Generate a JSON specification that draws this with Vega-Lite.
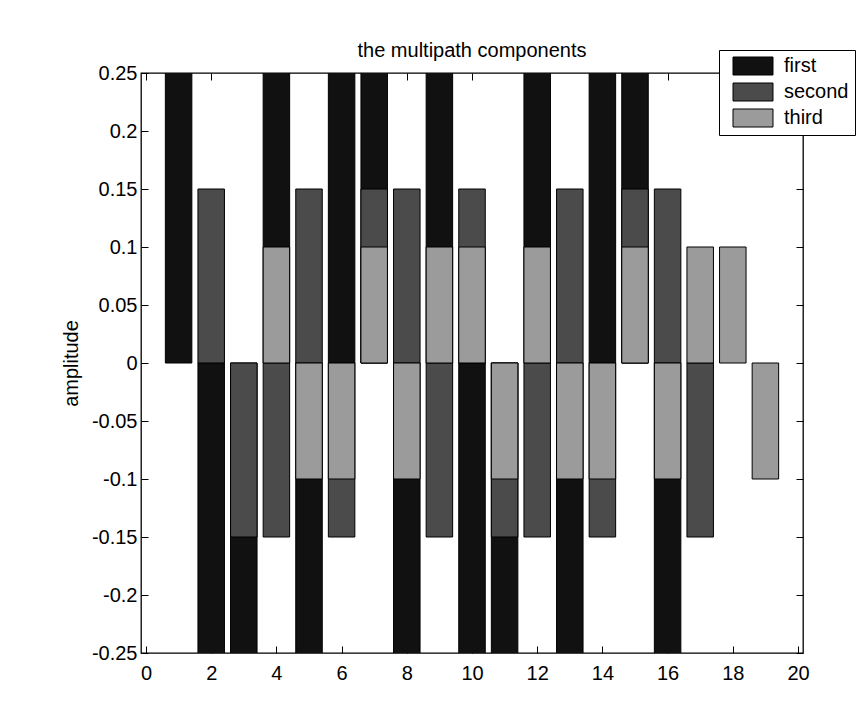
{
  "$schema": "https://vega.github.io/schema/vega-lite/v6.json",
  "width": 662,
  "height": 580,
  "autosize": {"type": "none"},
  "padding": {"left": 141, "top": 73, "right": 60, "bottom": 60},
  "background": "white",
  "title": {"text": "the multipath components", "fontSize": 20, "font": "Liberation Sans", "fontWeight": "normal", "color": "black", "offset": 16, "dy": 43, "anchor": "middle", "frame": "group", "baseline": "alphabetic"},
  "config": {
    "view": {"stroke": "black", "strokeWidth": 1.3},
    "font": "Liberation Sans",
    "axis": {"grid": false, "domain": false, "tickColor": "black", "tickWidth": 1, "tickSize": -7, "labelFont": "Liberation Sans", "labelFontSize": 20, "labelColor": "black", "titleFont": "Liberation Sans", "titleFontSize": 20, "titleFontWeight": "normal", "titleColor": "black"}
  },
  "data": {"values": [
    {"n": 1, "series": "first", "amp": 1},
    {"n": 2, "series": "first", "amp": -1},
    {"n": 3, "series": "first", "amp": -1},
    {"n": 4, "series": "first", "amp": 1},
    {"n": 5, "series": "first", "amp": -1},
    {"n": 6, "series": "first", "amp": 1},
    {"n": 7, "series": "first", "amp": 1},
    {"n": 8, "series": "first", "amp": -1},
    {"n": 9, "series": "first", "amp": 1},
    {"n": 10, "series": "first", "amp": -1},
    {"n": 11, "series": "first", "amp": -1},
    {"n": 12, "series": "first", "amp": 1},
    {"n": 13, "series": "first", "amp": -1},
    {"n": 14, "series": "first", "amp": 1},
    {"n": 15, "series": "first", "amp": 1},
    {"n": 16, "series": "first", "amp": -1},
    {"n": 2, "series": "second", "amp": 0.15},
    {"n": 3, "series": "second", "amp": -0.15},
    {"n": 4, "series": "second", "amp": -0.15},
    {"n": 5, "series": "second", "amp": 0.15},
    {"n": 6, "series": "second", "amp": -0.15},
    {"n": 7, "series": "second", "amp": 0.15},
    {"n": 8, "series": "second", "amp": 0.15},
    {"n": 9, "series": "second", "amp": -0.15},
    {"n": 10, "series": "second", "amp": 0.15},
    {"n": 11, "series": "second", "amp": -0.15},
    {"n": 12, "series": "second", "amp": -0.15},
    {"n": 13, "series": "second", "amp": 0.15},
    {"n": 14, "series": "second", "amp": -0.15},
    {"n": 15, "series": "second", "amp": 0.15},
    {"n": 16, "series": "second", "amp": 0.15},
    {"n": 17, "series": "second", "amp": -0.15},
    {"n": 4, "series": "third", "amp": 0.1},
    {"n": 5, "series": "third", "amp": -0.1},
    {"n": 6, "series": "third", "amp": -0.1},
    {"n": 7, "series": "third", "amp": 0.1},
    {"n": 8, "series": "third", "amp": -0.1},
    {"n": 9, "series": "third", "amp": 0.1},
    {"n": 10, "series": "third", "amp": 0.1},
    {"n": 11, "series": "third", "amp": -0.1},
    {"n": 12, "series": "third", "amp": 0.1},
    {"n": 13, "series": "third", "amp": -0.1},
    {"n": 14, "series": "third", "amp": -0.1},
    {"n": 15, "series": "third", "amp": 0.1},
    {"n": 16, "series": "third", "amp": -0.1},
    {"n": 17, "series": "third", "amp": 0.1},
    {"n": 18, "series": "third", "amp": 0.1},
    {"n": 19, "series": "third", "amp": -0.1}
  ]},
  "layer": [
    {
      "mark": {"type": "bar", "width": 26.5, "stroke": "black", "strokeWidth": 1, "clip": true},
      "encoding": {
        "x": {"field": "n", "type": "quantitative", "scale": {"domain": [0, 20], "nice": false, "zero": false},
          "axis": {"orient": "bottom", "values": [0, 2, 4, 6, 8, 10, 12, 14, 16, 18, 20], "title": null, "labelPadding": 17}},
        "y": {"field": "amp", "type": "quantitative", "stack": null, "scale": {"domain": [-0.25, 0.25], "nice": false},
          "axis": {"orient": "left", "values": [-0.25, -0.2, -0.15, -0.1, -0.05, 0, 0.05, 0.1, 0.15, 0.2, 0.25], "labelExpr": "'' + datum.value", "title": "amplitude", "labelPadding": 11, "titlePadding": 10}},
        "color": {"field": "series", "type": "nominal",
          "scale": {"domain": ["first", "second", "third"], "range": ["#111111", "#4b4b4b", "#9b9b9b"]},
          "legend": {"orient": "none", "legendX": 578, "legendY": -23, "title": null, "direction": "vertical",
            "symbolType": "M-2.222,-1H2.222V1H-2.222Z", "symbolSize": 324, "symbolStrokeColor": "black", "symbolStrokeWidth": 1, "symbolOpacity": 1,
            "labelFontSize": 20, "labelFont": "Liberation Sans", "labelColor": "black", "labelOffset": 21,
            "padding": 6, "symbolOffset": 18, "rowPadding": 4, "strokeColor": "black", "fillColor": "white"}}
      }
    },
    {
      "mark": {"type": "point", "opacity": 0, "clip": true},
      "encoding": {
        "x": {"field": "n", "type": "quantitative", "axis": {"orient": "top", "values": [0, 2, 4, 6, 8, 10, 12, 14, 16, 18, 20], "labels": false, "title": null}},
        "y": {"field": "amp", "type": "quantitative", "axis": {"orient": "right", "values": [-0.25, -0.2, -0.15, -0.1, -0.05, 0, 0.05, 0.1, 0.15, 0.2, 0.25], "labels": false, "title": null}}
      }
    }
  ],
  "resolve": {"axis": {"x": "independent", "y": "independent"}}
}
